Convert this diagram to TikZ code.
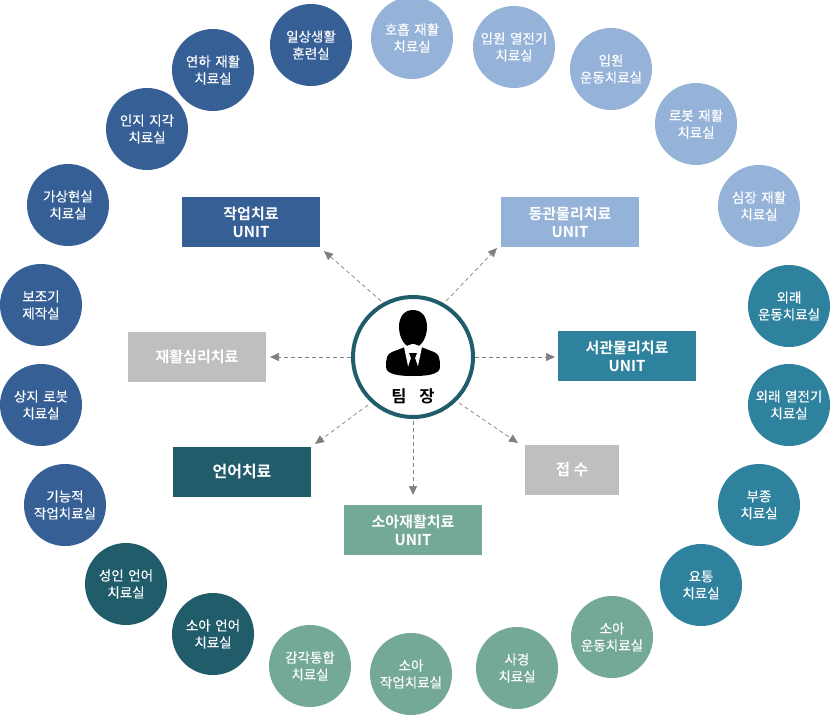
\documentclass[tikz,border=0pt]{standalone}
\usepackage{fontspec}
\setmainfont{Noto Sans CJK KR}[BoldFont={Noto Sans CJK KR Bold}]
\newfontfamily\medfont{Noto Sans CJK KR}[FakeBold=0.2,WordSpace=1.5]
\definecolor{cA}{HTML}{365F96}
\definecolor{cB}{HTML}{95B2D8}
\definecolor{cC}{HTML}{2F829E}
\definecolor{cD}{HTML}{74A898}
\definecolor{cE}{HTML}{215C6B}
\definecolor{cG}{HTML}{BFBFBF}
\usetikzlibrary{arrows.meta}
\tikzset{
 x=1pt,y=-1pt,
 rm/.style={circle,minimum size=82pt,inner sep=0pt,align=center,text=white,font=\medfont\fontsize{13.5}{17}\selectfont},
 ub/.style={minimum width=138pt,minimum height=50pt,inner sep=0pt,align=center,text=white,font=\bfseries\fontsize{15}{18}\selectfont},
 ln/.style={dash pattern=on 4pt off 3pt,draw=black!50,-{Stealth[length=9pt,width=8pt,inset=0pt,fill=black!50]},line width=.7pt}
}
\begin{document}
\begin{tikzpicture}
\useasboundingbox (0,0) rectangle (832,715);
\foreach \n/\x/\y/\c/\t in {
a1/311/45/cA/일상생활\\훈련실,a2/213/70/cA/연하 재활\\치료실,a3/147/129/cA/인지 지각\\치료실,a4/68/205/cA/가상현실\\치료실,a5/41/305/cA/보조기\\제작실,a6/41/405/cA/상지 로봇\\치료실,a7/65/505/cA/기능적\\작업치료실,
b1/412/38/cB/호흡 재활\\치료실,b2/514/47/cB/입원 열전기\\치료실,b3/611/69/cB/입원\\운동치료실,b4/696/124/cB/로봇 재활\\치료실,b5/759/206/cB/심장 재활\\치료실,
c1/789/306/cC/외래\\운동치료실,c2/789/405/cC/외래 열전기\\치료실,c3/759/505/cC/부종\\치료실,c4/701/585/cC/요통\\치료실,
d1/612/637/cD/소아\\운동치료실,d2/517/668/cD/사경\\치료실,d3/411/674/cD/소아\\작업치료실,d4/310/666/cD/감각통합\\치료실,
e1/213/634/cE/소아 언어\\치료실,e2/126/584/cE/성인 언어\\치료실}
 {\node[rm,fill=\c] (\n) at (\x,\y) {\t};}
\node[ub,fill=cA] (u1) at (251,222) {작업치료\\UNIT};
\node[ub,fill=cB] (u2) at (570,222) {동관물리치료\\UNIT};
\node[ub,fill=cC] (u3) at (627,356) {서관물리치료\\UNIT};
\node[ub,fill=cG] (u4) at (197,357) {재활심리치료};
\node[ub,fill=cE,font=\bfseries\fontsize{16}{18}\selectfont] (u5) at (242,472) {언어치료};
\node[ub,fill=cD] (u6) at (413,530) {소아재활치료\\UNIT};
\node[fill=cG,minimum width=94pt,minimum height=50pt,text=white,font=\bfseries\fontsize{15.5}{18}\selectfont] (u7) at (572,470) {접 수};
\node[circle,draw=cE,line width=4pt,fill=white,minimum size=120pt,inner sep=0pt] (h) at (413,357) {};
% person icon
\fill[black] (386,367) .. controls (386,358) and (387,354) .. (392,352) -- (405,347) -- (411,358) -- (415,358) -- (421,347) -- (434,352) .. controls (439,354) and (440,358) .. (440,367) .. controls (440,375) and (425,376) .. (413,376) .. controls (401,376) and (386,375) .. (386,367) -- cycle;
\fill[black] (413,310) .. controls (422,310) and (427,317) .. (427,327) .. controls (427,339) and (420,348) .. (413,348) .. controls (406,348) and (399,339) .. (399,327) .. controls (399,317) and (404,310) .. (413,310) -- cycle;
\fill[white] (404,347) -- (412,344) -- (414,344) -- (422,347) -- (418,366) -- (408,366) -- cycle;
\fill[black] (409,353) -- (417,353) -- (415,358) -- (418,367) -- (413,373) -- (408,367) -- (411,358) -- cycle;
\node[font=\bfseries\fontsize{16.5}{18}\selectfont] (hl) at (413,396) {팀\hspace{13pt}장};
\coordinate (e1) at (324,251);
\coordinate (e2) at (497,248);
\coordinate (e3) at (555,357);
\coordinate (e4) at (270,357);
\coordinate (e5) at (315,444);
\coordinate (e6) at (413,495);
\coordinate (e7) at (518,443);
\coordinate (s1) at (381,301);
\coordinate (s2) at (446,301);
\coordinate (s3) at (475,357);
\coordinate (s4) at (351,357);
\coordinate (s5) at (368,405);
\coordinate (s6) at (413,421);
\coordinate (s7) at (459,403);
\draw[ln] (s1) -- (e1);
\draw[ln] (s2) -- (e2);
\draw[ln] (s3) -- (e3);
\draw[ln] (s4) -- (e4);
\draw[ln] (s5) -- (e5);
\draw[ln] (s6) -- (e6);
\draw[ln] (s7) -- (e7);
\end{tikzpicture}
\end{document}
